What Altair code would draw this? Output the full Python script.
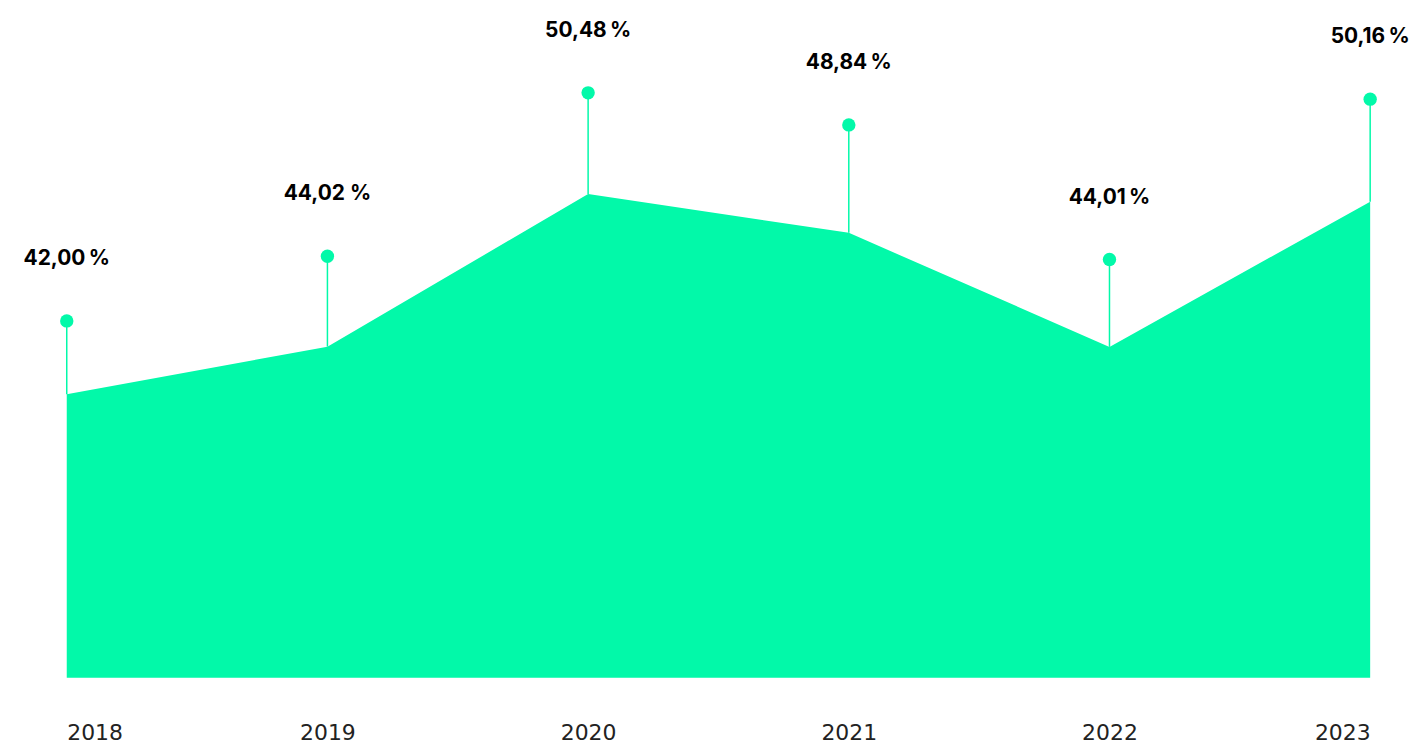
import altair as alt
import pandas as pd

years = ["2018", "2019", "2020", "2021", "2022", "2023"]
values = [42.00, 44.02, 50.48, 48.84, 44.01, 50.16]
pins = [45.11, 47.85, 54.77, 53.41, 47.71, 54.50]
labels = ["42,00\u2009%", "44,02 %", "50,48\u2009%", "48,84\u2009%", "44,01\u2009%", "50,16\u2009%"]

GREEN = "#02F9A9"

df = pd.DataFrame({"year": years, "value": values, "pin": pins, "label": labels})

x = alt.X(
    "year:O",
    sort=years,
    scale=alt.Scale(type="point", padding=0),
    axis=alt.Axis(
        title=None, labelAngle=0, ticks=False, domain=False, grid=False,
        labelFlush=True, labelPadding=45, labelFontSize=22,
        labelFont="DejaVu Sans", labelColor="#222222",
    ),
)
yscale = alt.Scale(domain=[30, 58], zero=False, nice=False)

base = alt.Chart(df)

area = base.mark_area(color=GREEN, opacity=1).encode(
    x=x,
    y=alt.Y("value:Q", scale=yscale, axis=None),
    y2=alt.datum(30),
)

rules = base.mark_rule(color=GREEN, strokeWidth=1.5).encode(
    x=x,
    y=alt.Y("pin:Q", scale=yscale, axis=None),
    y2="value:Q",
)

dots = base.mark_circle(color=GREEN, opacity=1, size=180).encode(
    x=x,
    y=alt.Y("pin:Q", scale=yscale, axis=None),
)

texts = base.mark_text(
    font="Inter", fontWeight="bold", fontSize=21, color="#000000",
    baseline="alphabetic", align="center", dy=-56,
).encode(
    x=x,
    y=alt.Y("pin:Q", scale=yscale, axis=None),
    text="label:N",
)

chart = (
    alt.layer(area, rules, dots, texts)
    .properties(
        width=1309, height=664,
        autosize=alt.AutoSizeParams(type="none"),
        padding={"left": 59, "top": 7, "right": 39, "bottom": 66},
        background="white",
    )
    .configure_view(stroke=None)
)

chart.save("out.html", embed_options={"renderer": "svg", "actions": False})
